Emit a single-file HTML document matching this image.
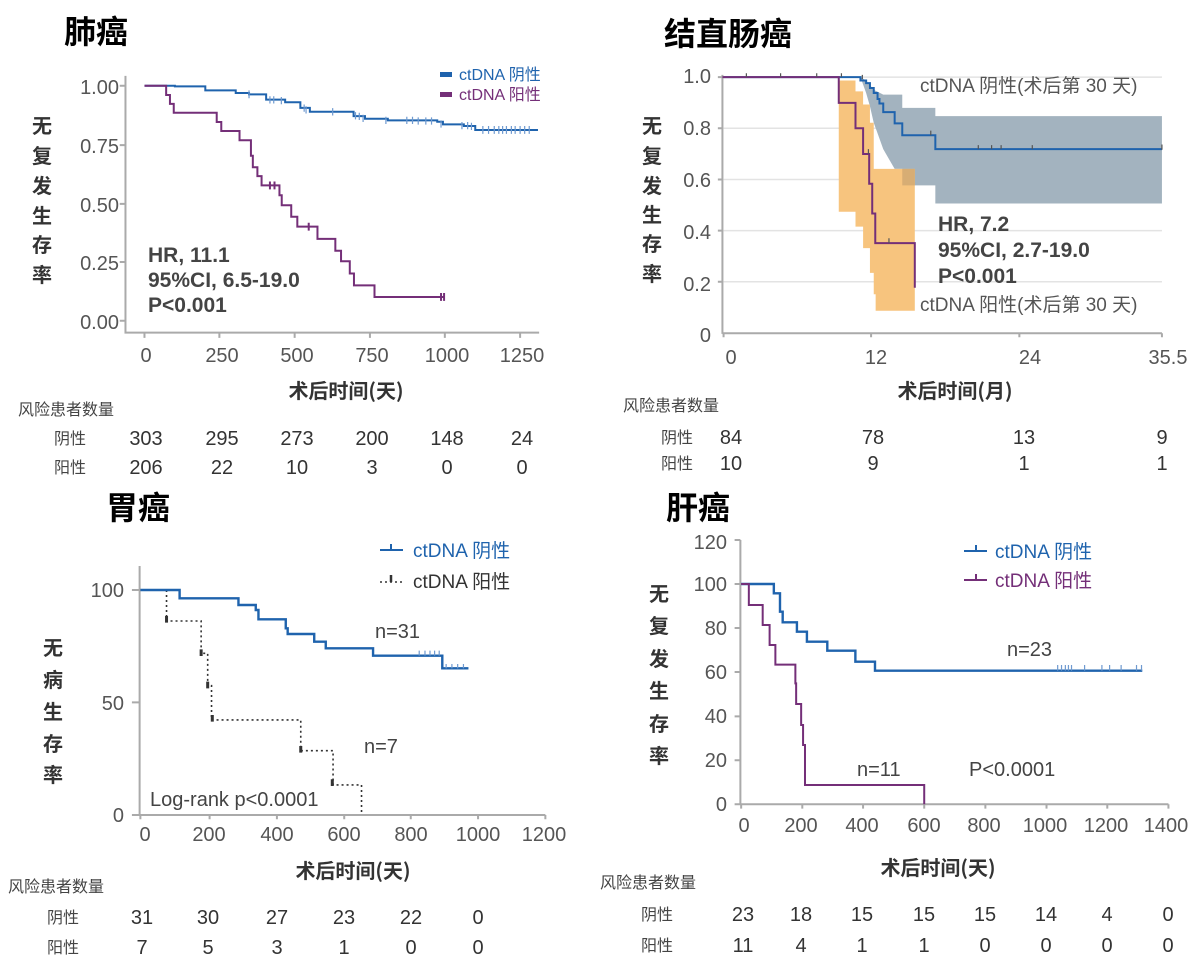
<!DOCTYPE html>
<html><head><meta charset="utf-8"><style>
html,body{margin:0;padding:0;background:#fff;}
svg{display:block;font-family:"Liberation Sans","Noto Sans CJK SC",sans-serif;}
.tk{font-size:20px;fill:#555;}
.ttl{font-size:32px;font-weight:bold;fill:#000;font-family:"Noto Sans CJK SC","WenQuanYi Zen Hei",sans-serif;}
.yl{font-size:20px;font-weight:bold;fill:#333;font-family:"Noto Sans CJK SC",sans-serif;}
.xl{font-size:20px;font-weight:bold;fill:#333;font-family:"Noto Sans CJK SC",sans-serif;}
.rh{font-size:16px;fill:#444;font-family:"Noto Sans CJK SC",sans-serif;}
.rn{font-size:20px;fill:#333;}
.hr{font-size:21px;font-weight:bold;fill:#444;}
.ann{font-size:20px;fill:#444;}
path{fill:none;}
.ax{stroke:#aaa;stroke-width:2;vector-effect:non-scaling-stroke;}
.b{stroke:#1f63ad;stroke-width:2;vector-effect:non-scaling-stroke;}
.p{stroke:#742f78;stroke-width:2;vector-effect:non-scaling-stroke;}
.bt{stroke:#6f9ad0;stroke-width:1.2;vector-effect:non-scaling-stroke;}
.g{stroke:#e3e3e3;stroke-width:1.5;vector-effect:non-scaling-stroke;}
</style></head><body>
<svg width="1204" height="970" viewBox="0 0 1204 970" xmlns="http://www.w3.org/2000/svg">
<text class="ttl" x="64" y="43">肺癌</text>
<text class="ttl" x="664" y="45">结直肠癌</text>
<text class="ttl" x="106" y="519">胃癌</text>
<text class="ttl" x="666" y="519">肝癌</text>

<!-- LUNG -->
<g transform="translate(0,60) scale(0.3802,0.330)">
<path class="ax" d="M330,48 V826 H1418"/>
<path class="ax" d="M315,78 H330 M315,258 H330 M315,436 H330 M315,612 H330 M315,790 H330 M380,826 V842 M577,826 V842 M775,826 V842 M973,826 V842 M1170,826 V842 M1368,826 V842"/>
<path class="b" d="M380,78 H460 V80 H540 V92 H620 V100 H655 V104 H700 V120 H750 V128 H790 V145 H815 V157 H930 V170 H960 V178 H1020 V183 H1150 V187 H1165 V195 H1220 V200 H1250 V212 H1415"/>
<path class="bt" d="M655,92V116 M710,110V132 M720,110V132 M740,112V134 M800,135V157 M805,140V162 M875,146V168 M935,158V180 M945,160V182 M955,166V188 M1015,172V194 M1070,172V194 M1085,172V194 M1100,174V196 M1120,174V196 M1135,174V196 M1160,183V205 M1215,188V210 M1230,188V210 M1240,190V212 M1270,200V224 M1285,200V224 M1300,200V224 M1312,200V224 M1322,200V224 M1332,200V224 M1345,200V224 M1355,200V224 M1368,200V224 M1380,200V224 M1392,200V224"/>
<path class="p" d="M380,78 H437 V106 H447 V133 H457 V160 H570 V188 H582 V215 H630 V243 H660 V290 H665 V325 H677 V352 H688 V380 H735 V410 H741 V440 H766 V475 H782 V505 H835 V542 H882 V578 H897 V610 H920 V647 H931 V683 H985 V718 H1168"/>
<path class="p" d="M710,368V392 M722,368V392 M812,493V517 M1160,706V730 M1168,706V730"/>
</g>
<g class="tk" text-anchor="end"><text x="119" y="94">1.00</text><text x="119" y="153">0.75</text><text x="119" y="212">0.50</text><text x="119" y="270">0.25</text><text x="119" y="329">0.00</text></g>
<g class="tk" text-anchor="middle"><text x="146" y="362">0</text><text x="222" y="362">250</text><text x="297" y="362">500</text><text x="372" y="362">750</text><text x="447" y="362">1000</text><text x="522" y="362">1250</text></g>
<g class="yl" text-anchor="middle"><text x="42" y="133">无</text><text x="42" y="163">复</text><text x="42" y="193">发</text><text x="42" y="223">生</text><text x="42" y="252">存</text><text x="42" y="282">率</text></g>
<text class="xl" x="346" y="398" text-anchor="middle">术后时间(天)</text>
<rect x="440" y="72" width="12" height="5" fill="#1f63ad"/>
<text x="459" y="80" font-size="16" fill="#1f63ad">ctDNA 阴性</text>
<rect x="440" y="92" width="12" height="5" fill="#742f78"/>
<text x="459" y="100" font-size="16" fill="#742f78">ctDNA 阳性</text>
<text class="hr" x="148" y="262">HR, 11.1</text>
<text class="hr" x="148" y="287">95%CI, 6.5-19.0</text>
<text class="hr" x="148" y="312">P&lt;0.001</text>
<text class="rh" x="18" y="415">风险患者数量</text>
<text class="rh" x="54" y="444">阴性</text><text class="rh" x="54" y="473">阳性</text>
<g class="rn" text-anchor="middle">
<text x="146" y="445">303</text><text x="222" y="445">295</text><text x="297" y="445">273</text><text x="372" y="445">200</text><text x="447" y="445">148</text><text x="522" y="445">24</text>
<text x="146" y="474">206</text><text x="222" y="474">22</text><text x="297" y="474">10</text><text x="372" y="474">3</text><text x="447" y="474">0</text><text x="522" y="474">0</text>
</g>

<!-- COLORECTAL -->
<g transform="translate(600,60) scale(0.3802,0.330)">
<path class="g" d="M325,52 H1478 M325,207 H1478 M325,362 H1478 M325,517 H1478 M325,672 H1478"/>
<polygon points="685,52 700,62 720,90 745,105 795,105 795,145 882,145 882,170 1478,170 1478,435 882,435 882,380 795,380 795,330 775,330 745,270 720,190 710,140 700,100" fill="#a3b3bf"/>
<polygon points="628,62 672,62 672,95 692,95 692,135 710,135 710,190 720,190 720,330 828,330 828,760 725,760 725,710 720,710 720,645 710,645 710,570 692,570 692,505 672,505 672,460 628,460" fill="#f7c47e"/>
<rect x="795" y="330" width="33" height="50" fill="#d7ad74"/>
<path class="ax" d="M322,45 V830 M322,828 H1478 M310,52 H322 M310,207 H322 M310,362 H322 M310,517 H322 M310,672 H322 M325,828 V840 M713,828 V840 M1103,828 V840 M1478,828 V840"/>
<path class="b" d="M325,52 H685 V62 H700 V70 H710 V85 H720 V100 H730 V118 H735 V132 H745 V158 H775 V192 H795 V228 H882 V270 H1478"/>
<path class="p" d="M322,52 H628 V130 H672 V207 H692 V285 H708 V375 H716 V465 H724 V555 H828 V690"/>
<path stroke="#555" stroke-width="1.2" vector-effect="non-scaling-stroke" d="M385,40V52 M475,40V52 M570,40V52 M635,40V52 M690,45V58 M870,214V228 M995,258V270 M1030,258V270 M1055,258V270 M1137,258V270 M1478,256V272 M706,270V285 M760,540V555"/>
</g>
<g class="tk" text-anchor="end"><text x="711" y="83">1.0</text><text x="711" y="135">0.8</text><text x="711" y="187">0.6</text><text x="711" y="239">0.4</text><text x="711" y="291">0.2</text><text x="711" y="342">0</text></g>
<g class="tk" text-anchor="middle"><text x="731" y="364">0</text><text x="876" y="364">12</text><text x="1030" y="364">24</text><text x="1168" y="364">35.5</text></g>
<g class="yl" text-anchor="middle"><text x="652" y="133">无</text><text x="652" y="163">复</text><text x="652" y="193">发</text><text x="652" y="222">生</text><text x="652" y="251">存</text><text x="652" y="281">率</text></g>
<text class="xl" x="955" y="398" text-anchor="middle">术后时间(月)</text>
<text x="920" y="92" font-size="19" fill="#555" font-family="Liberation Sans,Noto Sans CJK SC,sans-serif">ctDNA 阴性(术后第 30 天)</text>
<text x="920" y="311" font-size="19" fill="#555" font-family="Liberation Sans,Noto Sans CJK SC,sans-serif">ctDNA 阳性(术后第 30 天)</text>
<text class="hr" x="938" y="231">HR, 7.2</text>
<text class="hr" x="938" y="257">95%CI, 2.7-19.0</text>
<text class="hr" x="938" y="283">P&lt;0.001</text>
<text class="rh" x="623" y="411">风险患者数量</text>
<text class="rh" x="661" y="443">阴性</text><text class="rh" x="661" y="469">阳性</text>
<g class="rn" text-anchor="middle">
<text x="731" y="444">84</text><text x="873" y="444">78</text><text x="1024" y="444">13</text><text x="1162" y="444">9</text>
<text x="731" y="470">10</text><text x="873" y="470">9</text><text x="1024" y="470">1</text><text x="1162" y="470">1</text>
</g>

<!-- GASTRIC -->
<g transform="translate(0,530) scale(0.3846,0.3333)">
<path class="ax" d="M363,108 V855 H1418 M343,180 H363 M343,517 H363 M343,855 H363 M365,855 V868 M545,855 V868 M720,855 V868 M895,855 V868 M1068,855 V868 M1243,855 V868 M1418,855 V868"/>
<path stroke="#333" stroke-width="1.6" stroke-dasharray="2,3" vector-effect="non-scaling-stroke" d="M433,180 V273 H523 V370 H540 V467 H550 V570 H782 V662 H866 V765 H940 V855"/>
<path stroke="#333" stroke-width="3" vector-effect="non-scaling-stroke" d="M433,258V278 M523,358V378 M540,455V475 M552,555V575 M782,648V668 M864,748V768"/>
<path class="b" style="stroke-width:2.4" d="M365,180 H467 V205 H620 V225 H665 V240 H672 V268 H743 V295 H748 V312 H817 V335 H847 V355 H970 V377 H1150 V415 H1218"/>
<path class="bt" d="M1090,362V377 M1105,362V377 M1118,362V377 M1130,362V377 M1142,362V377 M1160,402V415 M1175,402V415 M1190,402V415 M1205,402V415"/>
</g>
<g class="tk" text-anchor="end"><text x="124" y="597">100</text><text x="124" y="710">50</text><text x="124" y="822">0</text></g>
<g class="tk" text-anchor="middle"><text x="145" y="841">0</text><text x="209" y="841">200</text><text x="277" y="841">400</text><text x="344" y="841">600</text><text x="411" y="841">800</text><text x="478" y="841">1000</text><text x="544" y="841">1200</text></g>
<g class="yl" text-anchor="middle"><text x="53" y="655">无</text><text x="53" y="687">病</text><text x="53" y="719">生</text><text x="53" y="751">存</text><text x="53" y="782">率</text></g>
<text class="xl" x="353" y="878" text-anchor="middle">术后时间(天)</text>
<path d="M380,550 H403 M391,544 V550" stroke="#1f63ad" stroke-width="2"/>
<text x="413" y="557" font-size="19" fill="#1f63ad" font-family="Liberation Sans,Noto Sans CJK SC,sans-serif">ctDNA  阴性</text>
<path d="M380,582 H403" stroke="#333" stroke-width="1.5" stroke-dasharray="2,3"/><path d="M391,575 V582" stroke="#333" stroke-width="2.5"/>
<text x="413" y="588" font-size="19" fill="#333" font-family="Liberation Sans,Noto Sans CJK SC,sans-serif">ctDNA  阳性</text>
<text class="ann" x="375" y="638">n=31</text>
<text class="ann" x="364" y="753">n=7</text>
<text class="ann" x="150" y="806">Log-rank p&lt;0.0001</text>
<text class="rh" x="8" y="892">风险患者数量</text>
<text class="rh" x="47" y="923">阴性</text><text class="rh" x="47" y="953">阳性</text>
<g class="rn" text-anchor="middle">
<text x="142" y="924">31</text><text x="208" y="924">30</text><text x="277" y="924">27</text><text x="344" y="924">23</text><text x="411" y="924">22</text><text x="478" y="924">0</text>
<text x="142" y="954">7</text><text x="208" y="954">5</text><text x="277" y="954">3</text><text x="344" y="954">1</text><text x="411" y="954">0</text><text x="478" y="954">0</text>
</g>

<!-- LIVER -->
<g transform="translate(600,530) scale(0.3846,0.3333)">
<path class="ax" d="M365,30 V823 H1478 M350,30 H365 M350,162 H365 M350,294 H365 M350,426 H365 M350,559 H365 M350,691 H365 M350,823 H365 M367,823 V836 M526,823 V836 M684,823 V836 M843,823 V836 M1002,823 V836 M1161,823 V836 M1319,823 V836 M1478,823 V836"/>
<path class="b" style="stroke-width:2.4" d="M367,162 H452 V190 H468 V245 H475 V277 H512 V305 H538 V335 H591 V362 H664 V395 H715 V422 H1410"/>
<path class="bt" d="M1190,405V422 M1200,405V422 M1210,405V422 M1218,405V422 M1226,405V422 M1260,405V422 M1305,405V422 M1325,405V422 M1355,405V422 M1395,405V422 M1408,405V422"/>
<path class="p" d="M367,162 H387 V225 H423 V285 H441 V345 H456 V404 H508 V460 H510 V522 H523 V585 H528 V645 H533 V765 H843 V823"/>
</g>
<g class="tk" text-anchor="end"><text x="727" y="549">120</text><text x="727" y="591">100</text><text x="727" y="635">80</text><text x="727" y="679">60</text><text x="727" y="723">40</text><text x="727" y="767">20</text><text x="727" y="811">0</text></g>
<g class="tk" text-anchor="middle"><text x="744" y="832">0</text><text x="801" y="832">200</text><text x="862" y="832">400</text><text x="924" y="832">600</text><text x="984" y="832">800</text><text x="1045" y="832">1000</text><text x="1106" y="832">1200</text><text x="1166" y="832">1400</text></g>
<g class="yl" text-anchor="middle"><text x="659" y="601">无</text><text x="659" y="633">复</text><text x="659" y="666">发</text><text x="659" y="698">生</text><text x="659" y="731">存</text><text x="659" y="763">率</text></g>
<text class="xl" x="938" y="875" text-anchor="middle">术后时间(天)</text>
<path d="M964,551 H987 M976,545 V551" stroke="#1f63ad" stroke-width="2"/>
<text x="995" y="558" font-size="19" fill="#1f63ad" font-family="Liberation Sans,Noto Sans CJK SC,sans-serif">ctDNA  阴性</text>
<path d="M964,580 H987 M976,574 V580" stroke="#742f78" stroke-width="2"/>
<text x="995" y="587" font-size="19" fill="#742f78" font-family="Liberation Sans,Noto Sans CJK SC,sans-serif">ctDNA  阳性</text>
<text class="ann" x="1007" y="656">n=23</text>
<text class="ann" x="857" y="776">n=11</text>
<text class="ann" x="969" y="776">P&lt;0.0001</text>
<text class="rh" x="600" y="888">风险患者数量</text>
<text class="rh" x="641" y="920">阴性</text><text class="rh" x="641" y="951">阳性</text>
<g class="rn" text-anchor="middle">
<text x="743" y="921">23</text><text x="801" y="921">18</text><text x="862" y="921">15</text><text x="924" y="921">15</text><text x="985" y="921">15</text><text x="1046" y="921">14</text><text x="1107" y="921">4</text><text x="1168" y="921">0</text>
<text x="743" y="952">11</text><text x="801" y="952">4</text><text x="862" y="952">1</text><text x="924" y="952">1</text><text x="985" y="952">0</text><text x="1046" y="952">0</text><text x="1107" y="952">0</text><text x="1168" y="952">0</text>
</g>
</svg>
</body></html>
